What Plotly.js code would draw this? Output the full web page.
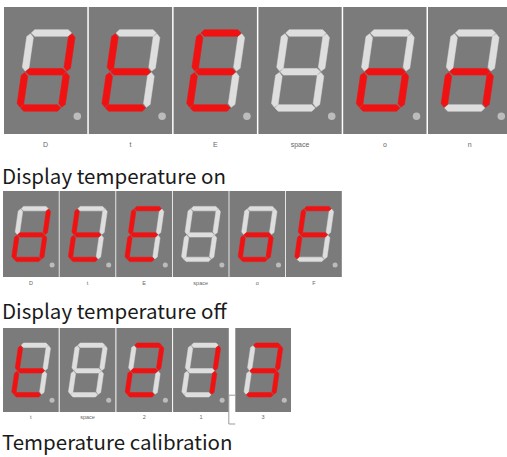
<!DOCTYPE html>
<html>
<head>
<meta charset="utf-8">
<script src="https://cdn.plot.ly/plotly-3.0.1.min.js"></script>
<style>html,body{margin:0;padding:0;background:#fff;}#chart{width:507px;height:457px;}</style>
</head>
<body>
<div id="chart"></div>
<script>
// ---- data ----
const row1Chars  = ['d', 't', 'E', ' ', 'o', 'n'];
const row1Labels = ['D', 't', 'E', 'space', 'o', 'n'];
const row2Chars  = ['d', 't', 'E', ' ', 'o', 'F'];
const row2Labels = ['D', 't', 'E', 'space', 'o', 'F'];
const row3Chars  = ['t', ' ', '2', '1', '3'];
const row3Labels = ['t', 'space', '2', '1', '3'];
const titles = ['Display temperature on', 'Display temperature off', 'Temperature calibration'];
// lit segments per character (a=top, b=top-right, c=bottom-right, d=bottom, e=bottom-left, f=top-left, g=middle)
const segmentCodes = {'d':'bcdeg','t':'defg','E':'adefg',' ':'','o':'cdeg','n':'ceg','F':'aefg','2':'abdeg','1':'bc','3':'abcdg'};

// ---- layout geometry ----
const rows = [
  {chars: row1Chars, labels: row1Labels, title: titles[0], left: 4, pitch: 84.8, w: 83.3, top: 7,   h: 127, labelY: 145, titleY: 175, labelSize: 7, extra: []},
  {chars: row2Chars, labels: row2Labels, title: titles[1], left: 3, pitch: 56.6, w: 55.8, top: 191, h: 86,  labelY: 284, titleY: 309.5, labelSize: 5.5, extra: []},
  {chars: row3Chars, labels: row3Labels, title: titles[2], left: 3, pitch: 56.7, w: 55.7, top: 328, h: 84,  labelY: 418, titleY: 441, labelSize: 5.5, extra: [0,0,0,0,5.5], bracket: 3}
];
const RED = '#f01212', OFF = '#dedede', BOX = '#7b7b7b', DOT = '#d9d9d9', LABEL = '#666666';

const VT = 0.205, VM = 0.51, VB = 0.795;
function xl(v){ return 0.19 + 0.22 * (VB - v); }
function xr(v){ return xl(v) + 0.50; }
const segDefs = {
  a: [[xl(VT),VT],[xr(VT),VT]],
  b: [[xr(VT),VT],[xr(VM),VM]],
  c: [[xr(VM),VM],[xr(VB),VB]],
  d: [[xl(VB),VB],[xr(VB),VB]],
  e: [[xl(VM),VM],[xl(VB),VB]],
  f: [[xl(VT),VT],[xl(VM),VM]],
  g: [[xl(VM),VM],[xr(VM),VM]]
};

const box = {x: [], y: []}, red = {x: [], y: []}, off = {x: [], y: []};
const dot = {x: [], y: [], s: []};
const lab = {x: [], y: [], t: [], s: [], c: []};
const annotations = [];
const bracket = {x: [], y: []};

function addPoly(tr, pts){
  pts.forEach(p => { tr.x.push(p[0]); tr.y.push(p[1]); });
  tr.x.push(pts[0][0]); tr.y.push(pts[0][1]);
  tr.x.push(null); tr.y.push(null);
}
function segPoly(P, Q, hh, g){
  const dx = Q[0]-P[0], dy = Q[1]-P[1], L = Math.hypot(dx, dy);
  const d = [dx/L, dy/L], n = [-d[1], d[0]];
  const pt = (B, s, t) => [B[0] + d[0]*s + n[0]*t, B[1] + d[1]*s + n[1]*t];
  return [pt(P, g, 0), pt(P, g+hh, hh), pt(Q, -g-hh, hh), pt(Q, -g, 0), pt(Q, -g-hh, -hh), pt(P, g+hh, -hh)];
}

rows.forEach(r => {
  let shift = 0;
  r.chars.forEach((ch, i) => {
    shift += (r.extra[i] || 0);
    const x0 = r.left + i * r.pitch + shift, y0 = r.top, w = r.w, h = r.h;
    addPoly(box, [[x0, y0], [x0 + w, y0], [x0 + w, y0 + h], [x0, y0 + h]]);
    const lit = segmentCodes[ch] || '';
    const hh = 0.04 * w, g = 0.008 * w;
    'abcdefg'.split('').forEach(s => {
      const [p, q] = segDefs[s];
      const P = [x0 + p[0]*w, y0 + p[1]*h], Q = [x0 + q[0]*w, y0 + q[1]*h];
      addPoly(lit.indexOf(s) >= 0 ? red : off, segPoly(P, Q, hh, g));
    });
    dot.x.push(x0 + 0.88*w); dot.y.push(y0 + 0.86*h); dot.s.push(0.09*w);
    lab.x.push(x0 + w/2); lab.y.push(r.labelY); lab.t.push(r.labels[i]); lab.s.push(r.labelSize); lab.c.push(LABEL);
  });
  if (r.bracket !== undefined) {
    const k = r.bracket;
    const xa = r.left + k * r.pitch + r.w;
    const xb = r.left + (k+1) * r.pitch + (r.extra[k+1] || 0);
    const yA = r.top + 0.80 * r.h, yB = r.labelY + 6;
    bracket.x.push(xb, xa, xa, xb); bracket.y.push(yA, yA, yB, yB);
  }
  annotations.push({x: 0, y: r.titleY, xref: 'x', yref: 'y', xanchor: 'left', yanchor: 'middle',
    text: r.title, showarrow: false, font: {family: 'Noto Sans CJK SC, Noto Sans, sans-serif', size: 20.5, color: '#1a1a1a'}});
});

const traces = [
  {type: 'scatter', mode: 'lines', x: box.x, y: box.y, fill: 'toself', fillcolor: BOX, line: {width: 0, color: BOX}, hoverinfo: 'skip'},
  {type: 'scatter', mode: 'lines', x: off.x, y: off.y, fill: 'toself', fillcolor: OFF, line: {width: 0.5, color: OFF}, hoverinfo: 'skip'},
  {type: 'scatter', mode: 'lines', x: red.x, y: red.y, fill: 'toself', fillcolor: RED, line: {width: 0.5, color: RED}, hoverinfo: 'skip'},
  {type: 'scatter', mode: 'markers', x: dot.x, y: dot.y, marker: {size: dot.s, color: DOT, line: {width: 0}}, hoverinfo: 'skip'},
  {type: 'scatter', mode: 'text', x: lab.x, y: lab.y, text: lab.t, textposition: 'middle center',
    textfont: {family: 'Liberation Sans, Arial, sans-serif', size: lab.s, color: lab.c}, hoverinfo: 'skip'},
  {type: 'scatter', mode: 'lines', x: bracket.x, y: bracket.y, line: {width: 1, color: '#9a9a9a'}, hoverinfo: 'skip'}
];

const layout = {
  width: 507, height: 457,
  margin: {l: 0, r: 0, t: 0, b: 0},
  paper_bgcolor: '#ffffff', plot_bgcolor: '#ffffff',
  showlegend: false,
  xaxis: {range: [0, 507], visible: false, fixedrange: true},
  yaxis: {range: [457, 0], visible: false, fixedrange: true},
  annotations: annotations
};
Plotly.newPlot('chart', traces, layout, {displayModeBar: false, staticPlot: true});
</script>
</body>
</html>
